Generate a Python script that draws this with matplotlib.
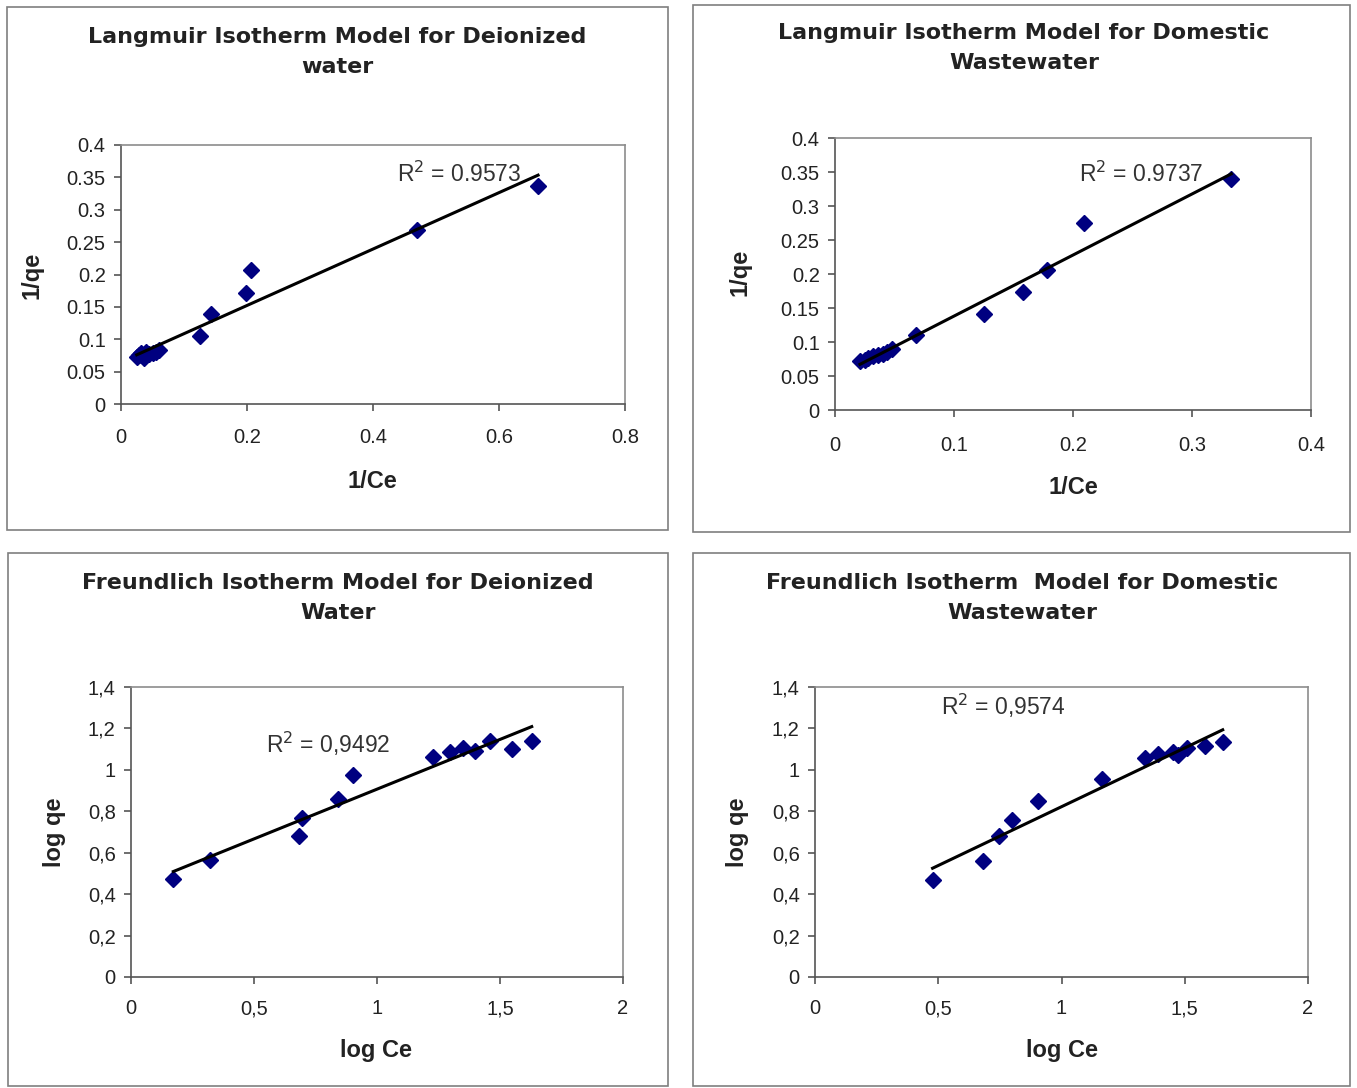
import numpy as np
import matplotlib
matplotlib.use("Agg")
import matplotlib.pyplot as plt
from matplotlib.patches import Rectangle
from matplotlib.ticker import FixedLocator, FixedFormatter

plt.rcParams['font.family'] = ['Liberation Sans', 'DejaVu Sans']

# Langmuir, deionized water
lang_di_x = [0.025, 0.029, 0.032, 0.036, 0.040, 0.045, 0.050, 0.055, 0.060,
             0.125, 0.143, 0.198, 0.207, 0.470, 0.662]
lang_di_y = [0.072, 0.076, 0.078, 0.071, 0.080, 0.077, 0.079, 0.081, 0.083,
             0.105, 0.139, 0.172, 0.207, 0.268, 0.336]

# Langmuir, domestic wastewater
lang_dw_x = [0.021, 0.025, 0.028, 0.032, 0.036, 0.040, 0.044, 0.048,
             0.068, 0.125, 0.158, 0.178, 0.209, 0.333]
lang_dw_y = [0.072, 0.074, 0.076, 0.079, 0.081, 0.083, 0.086, 0.089,
             0.110, 0.141, 0.173, 0.206, 0.275, 0.339]

# Freundlich, deionized water
fr_di_x = [0.172, 0.321, 0.683, 0.694, 0.843, 0.904, 1.229, 1.297, 1.351,
           1.398, 1.459, 1.547, 1.629]
fr_di_y = [0.472, 0.565, 0.681, 0.767, 0.860, 0.973, 1.064, 1.085, 1.105,
           1.092, 1.137, 1.100, 1.140]

# Freundlich, domestic wastewater
fr_dw_x = [0.477, 0.680, 0.746, 0.800, 0.903, 1.163, 1.339, 1.393, 1.454,
           1.474, 1.508, 1.582, 1.654]
fr_dw_y = [0.469, 0.560, 0.681, 0.758, 0.852, 0.955, 1.056, 1.077, 1.084,
           1.072, 1.105, 1.117, 1.134]

titles = ["Langmuir Isotherm Model for Deionized\nwater",
          "Langmuir Isotherm Model for Domestic\nWastewater",
          "Freundlich Isotherm Model for Deionized\nWater",
          "Freundlich Isotherm  Model for Domestic\nWastewater"]
r2_labels = ["R$^2$ = 0.9573", "R$^2$ = 0.9737", "R$^2$ = 0,9492", "R$^2$ = 0,9574"]
r2_pos = [(0.438, 0.354), (0.205, 0.346), (0.549, 1.126), (0.511, 1.309)]

lang_yticks = [0, 0.05, 0.1, 0.15, 0.2, 0.25, 0.3, 0.35, 0.4]
lang_ylabels = ["0", "0.05", "0.1", "0.15", "0.2", "0.25", "0.3", "0.35", "0.4"]
lang_di_xticks = [0, 0.2, 0.4, 0.6, 0.8]
lang_di_xlabels = ["0", "0.2", "0.4", "0.6", "0.8"]
lang_dw_xticks = [0, 0.1, 0.2, 0.3, 0.4]
lang_dw_xlabels = ["0", "0.1", "0.2", "0.3", "0.4"]
fr_yticks = [0, 0.2, 0.4, 0.6, 0.8, 1.0, 1.2, 1.4]
fr_ylabels = ["0", "0,2", "0,4", "0,6", "0,8", "1", "1,2", "1,4"]
fr_xticks = [0, 0.5, 1.0, 1.5, 2.0]
fr_xlabels = ["0", "0,5", "1", "1,5", "2"]

W, H = 1357, 1088
fig = plt.figure(figsize=(W / 100, H / 100), dpi=100)

def fx(px):
    return px / W

def fy(py):
    return 1 - py / H

# outer chart boxes (pixels: left, top, right, bottom)
boxes = [(7, 7, 668, 530), (693, 5, 1350, 532), (8, 553, 668, 1086), (693, 553, 1350, 1086)]
for l, t, r, b in boxes:
    fig.patches.append(Rectangle((fx(l), fy(b)), fx(r - l), (b - t) / H,
                                 transform=fig.transFigure, fill=False,
                                 edgecolor='#7f7f7f', linewidth=1.2))

# plot areas (pixels: left, top, right, bottom)
areas = [(121, 145, 625, 404), (835, 138, 1311, 410), (131, 687, 623, 977), (815, 687, 1308, 977)]
title_pos = [(337, 52), (1024, 48), (338, 598), (1022, 598)]
ylab_pos = [(32, 275), (740, 272), (54, 832), (737, 832)]
xlab_pos = [(372, 482), (1073, 488), (376, 1050), (1062, 1050)]
xpads = [12, 14, 11, 11]
xlabels = ["1/Ce", "1/Ce", "log Ce", "log Ce"]
ylabels = ["1/qe", "1/qe", "log qe", "log qe"]

data = [(lang_di_x, lang_di_y), (lang_dw_x, lang_dw_y), (fr_di_x, fr_di_y), (fr_dw_x, fr_dw_y)]
limits = [((0, 0.8), (0, 0.4)), ((0, 0.4), (0, 0.4)), ((0, 2), (0, 1.4)), ((0, 2), (0, 1.4))]
xt = [(lang_di_xticks, lang_di_xlabels), (lang_dw_xticks, lang_dw_xlabels),
      (fr_xticks, fr_xlabels), (fr_xticks, fr_xlabels)]
yt = [(lang_yticks, lang_ylabels), (lang_yticks, lang_ylabels),
      (fr_yticks, fr_ylabels), (fr_yticks, fr_ylabels)]

for i in range(4):
    l, t, r, b = areas[i]
    ax = fig.add_axes([fx(l), fy(b), (r - l) / W, (b - t) / H])
    x = np.array(data[i][0])
    y = np.array(data[i][1])
    ax.plot(x, y, linestyle='none', marker='D', markersize=8.5,
            color='#000080', zorder=3)
    k, c = np.polyfit(x, y, 1)
    xl = np.array([x.min(), x.max()])
    ax.plot(xl, k * xl + c, color='black', linewidth=2.2, zorder=4)
    ax.set_xlim(*limits[i][0])
    ax.set_ylim(*limits[i][1])
    ax.xaxis.set_major_locator(FixedLocator(xt[i][0]))
    ax.xaxis.set_major_formatter(FixedFormatter(xt[i][1]))
    ax.yaxis.set_major_locator(FixedLocator(yt[i][0]))
    ax.yaxis.set_major_formatter(FixedFormatter(yt[i][1]))
    for s in ax.spines.values():
        s.set_color('#8c8c8c')
        s.set_linewidth(1.2)
    ax.spines['left'].set_color('#555555')
    ax.spines['bottom'].set_color('#555555')
    ax.tick_params(direction='out', length=5, width=1.2, color='#555555',
                   labelsize=14.5, labelcolor='#222222', pad=6)
    ax.tick_params(axis='x', pad=xpads[i])
    ax.text(r2_pos[i][0], r2_pos[i][1], r2_labels[i], fontsize=16.5,
            color='#333333', va='center', ha='left')

    fig.text(fx(title_pos[i][0]), fy(title_pos[i][1]), titles[i], ha='center',
             va='center', fontsize=16, fontweight='bold', color='#222222',
             family=['DejaVu Sans'], linespacing=1.6)
    fig.text(fx(xlab_pos[i][0]), fy(xlab_pos[i][1]), xlabels[i], ha='center',
             va='center', fontsize=17, fontweight='bold', color='#222222')
    fig.text(fx(ylab_pos[i][0]), fy(ylab_pos[i][1]), ylabels[i], ha='center',
             va='center', fontsize=17, fontweight='bold', color='#222222',
             rotation=90)

fig.savefig("out.png", dpi=100)
